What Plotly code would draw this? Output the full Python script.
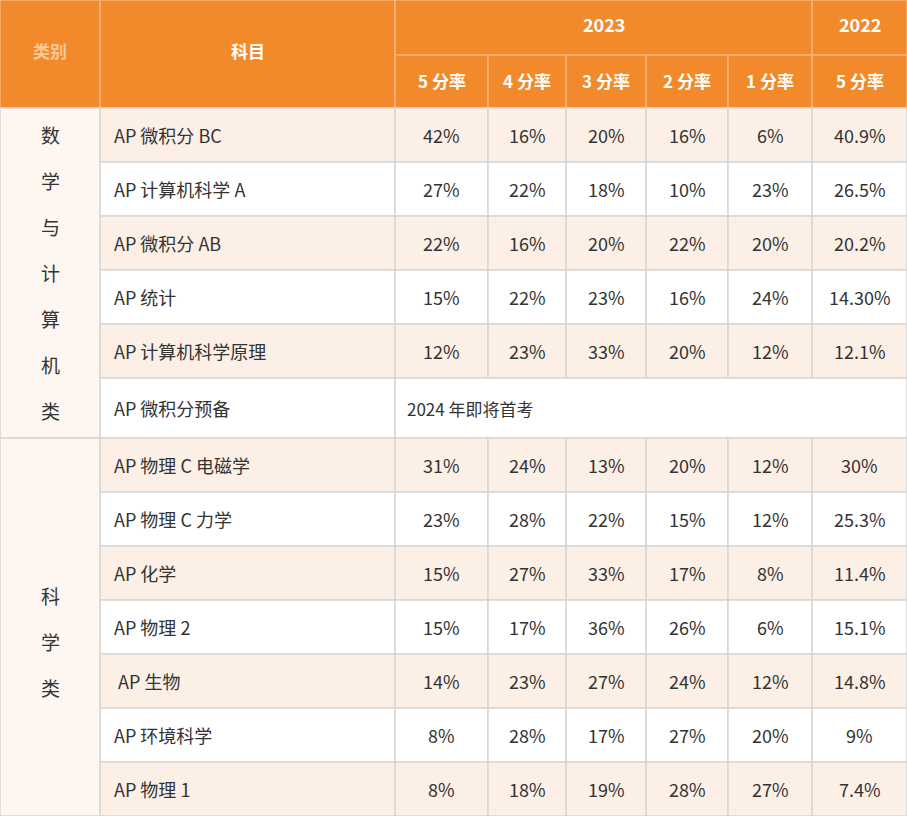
import plotly.graph_objects as go

W, H = 907, 816
FONT = "Noto Sans CJK SC, Noto Sans, sans-serif"
ORANGE = "#F28A2C"
PEACH = "#FCEFE5"
GRID = "#D6D6D6"
TEXT = "#333333"

# column boundaries (px) and row boundaries
col_x = [0, 100, 395, 488, 566, 646, 728, 812, 907]
head_y = [0, 55, 108]
row_y = [108, 162, 216, 270, 324, 378, 438, 492, 546, 600, 654, 708, 762, 816]

year_labels = ["2023", "2022"]
score_labels = ["5 分率", "4 分率", "3 分率", "2 分率", "1 分率", "5 分率"]
categories = ["数\n学\n与\n计\n算\n机\n类", "科\n学\n类"]
category_rows = [(0, 6), (6, 13)]

subjects = [
    "AP 微积分 BC", "AP 计算机科学 A", "AP 微积分 AB", "AP 统计", "AP 计算机科学原理",
    "AP 微积分预备", "AP 物理 C 电磁学", "AP 物理 C 力学", "AP 化学", "AP 物理 2",
    " AP 生物", "AP 环境科学", "AP 物理 1",
]
rate5 = ["42%", "27%", "22%", "15%", "12%", None, "31%", "23%", "15%", "15%", "14%", "8%", "8%"]
rate4 = ["16%", "22%", "16%", "22%", "23%", None, "24%", "28%", "27%", "17%", "23%", "28%", "18%"]
rate3 = ["20%", "18%", "20%", "23%", "33%", None, "13%", "22%", "33%", "36%", "27%", "17%", "19%"]
rate2 = ["16%", "10%", "22%", "16%", "20%", None, "20%", "15%", "17%", "26%", "24%", "27%", "28%"]
rate1 = ["6%", "23%", "20%", "24%", "12%", None, "12%", "12%", "8%", "6%", "12%", "20%", "27%"]
rate5_2022 = ["40.9%", "26.5%", "20.2%", "14.30%", "12.1%", None, "30%", "25.3%", "11.4%",
              "15.1%", "14.8%", "9%", "7.4%"]
note_text = "2024 年即将首考"

fig = go.Figure()
shapes, annos = [], []


def rect(x0, y0, x1, y1, fill, line=GRID, lw=1.5):
    shapes.append(dict(type="rect", x0=x0, y0=y0, x1=x1, y1=y1, fillcolor=fill,
                       line=dict(color=line, width=lw), layer="below"))


def text(x, y, s, size=18, color=TEXT, bold=False, xanchor="center"):
    if bold:
        s = "<b>" + s + "</b>"
    annos.append(dict(x=x, y=y, text=s, showarrow=False, xanchor=xanchor, yanchor="middle",
                      font=dict(family=FONT, size=size, color=color)))


# header
hl = "#F6B27A"
rect(col_x[0], 0, col_x[1], 108, ORANGE, hl)
rect(col_x[1], 0, col_x[2], 108, ORANGE, hl)
rect(col_x[2], 0, col_x[7], 55, ORANGE, hl)
rect(col_x[7], 0, col_x[8], 55, ORANGE, hl)
text(50, 50, "类别", 17, "#F9C99A", True)
text((col_x[1] + col_x[2]) / 2, 50, "科目", 17, "white", True)
text((col_x[2] + col_x[7]) / 2, 24, year_labels[0], 18, "white", True)
text((col_x[7] + col_x[8]) / 2, 24, year_labels[1], 18, "white", True)
for i, lab in enumerate(score_labels):
    x0, x1 = col_x[i + 2], col_x[i + 3]
    rect(x0, 55, x1, 108, ORANGE, hl)
    text((x0 + x1) / 2, 80, lab, 17, "white", True)

# body
cols = [rate5, rate4, rate3, rate2, rate1, rate5_2022]
for r, subj in enumerate(subjects):
    y0, y1 = row_y[r], row_y[r + 1]
    ym = (y0 + y1) / 2
    fill = PEACH if (r < 5 and r % 2 == 0) or r in (6, 8, 10, 12) else "white"
    rect(col_x[1], y0, col_x[2], y1, fill)
    text(col_x[1] + 12, ym, subj, 18, xanchor="left")
    if rate5[r] is None:
        rect(col_x[2], y0, col_x[8], y1, "white")
        text(col_x[2] + 10, ym, note_text, 17, xanchor="left")
        continue
    for c, vals in enumerate(cols):
        rect(col_x[c + 2], y0, col_x[c + 3], y1, fill)
        text((col_x[c + 2] + col_x[c + 3]) / 2, ym, vals[r], 18)

for cat, (a, b) in zip(categories, category_rows):
    y0, y1 = row_y[a], row_y[b]
    rect(col_x[0], y0, col_x[1], y1, "#FEF6F0")
    chars = cat.split("\n")
    top = y0 + 26 if a == 0 else (y0 + y1) / 2 - 46 * (len(chars) - 1) / 2 + 14
    for k, ch in enumerate(chars):
        text(50, top + 46 * k, ch, 19)

fig.update_layout(
    width=W, height=H, margin=dict(l=0, r=0, t=0, b=0),
    paper_bgcolor="white", plot_bgcolor="white",
    xaxis=dict(range=[0, W], visible=False, fixedrange=True),
    yaxis=dict(range=[H, 0], visible=False, fixedrange=True),
    shapes=shapes, annotations=annos, showlegend=False,
)
fig.write_html(
    "out.html",
    config={"displayModeBar": False},
    post_script="document.body.style.margin='0';document.body.style.overflow='hidden';",
)
